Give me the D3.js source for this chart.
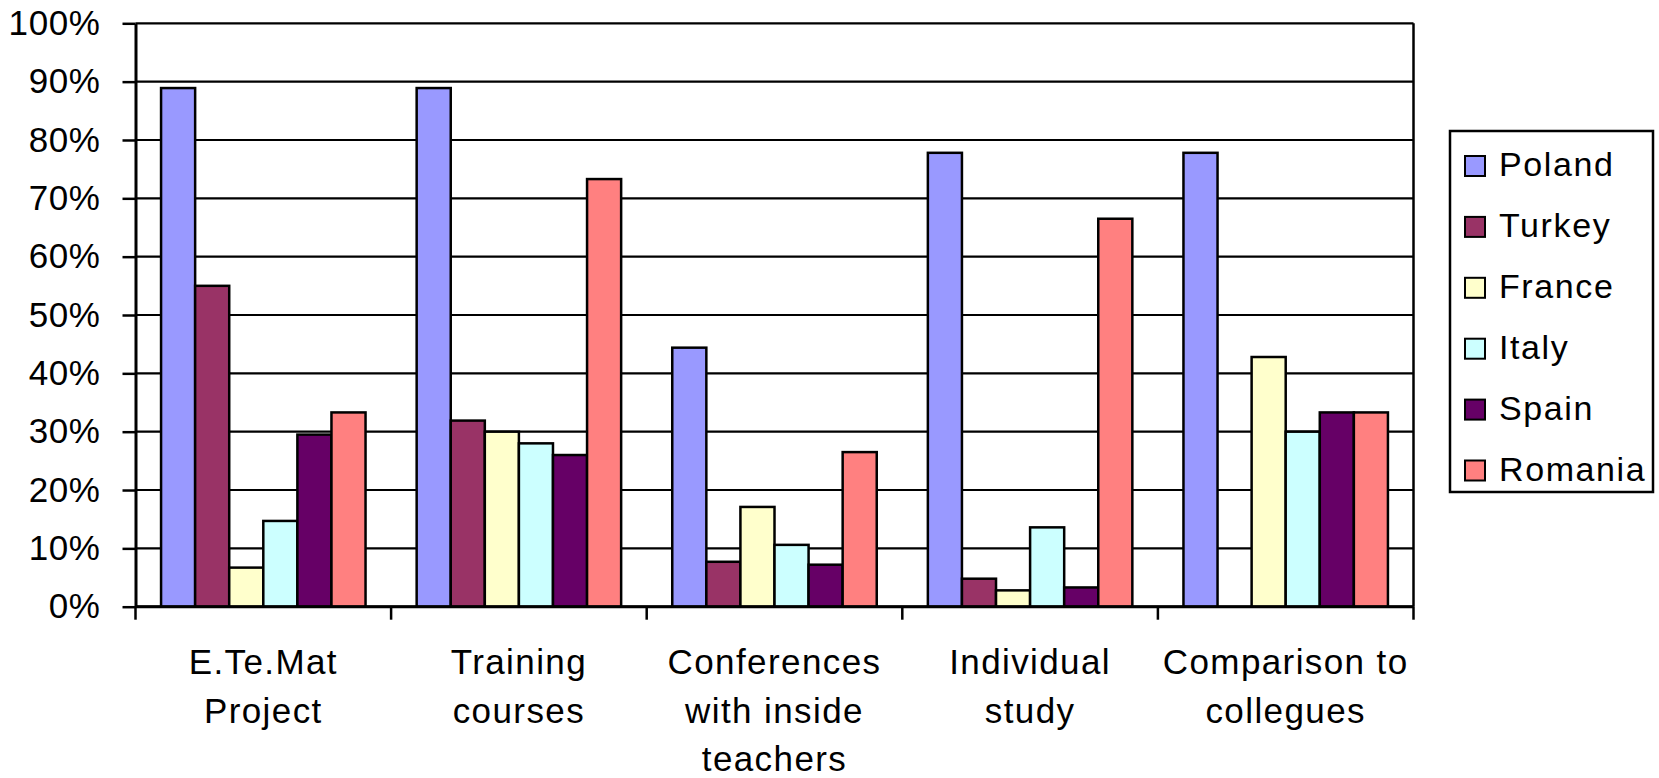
<!DOCTYPE html>
<html>
<head>
<meta charset="utf-8">
<script src="https://cdn.jsdelivr.net/npm/d3@7"></script>
<style>
  html, body { margin: 0; padding: 0; background: #fff; }
  svg { display: block; font-family: "Liberation Sans", Arial, sans-serif; }
</style>
</head>
<body>
<svg id="chart" width="1659" height="778"></svg>
<script>
// Categories (multi-line labels) and series
const categories = [
  ["E.Te.Mat", "Project"],
  ["Training", "courses"],
  ["Conferences", "with inside", "teachers"],
  ["Individual", "study"],
  ["Comparison to", "collegues"]
];
const seriesNames = ["Poland", "Turkey", "France", "Italy", "Spain", "Romania"];
const seriesColors = ["#9999FF", "#993366", "#FFFFCC", "#CCFFFF", "#660066", "#FF8080"];

// Share per series, one value per category (fractions of 1)
const poland  = [0.889, 0.889, 0.444, 0.778, 0.778];
const turkey  = [0.550, 0.319, 0.077, 0.048, 0.000];
const france  = [0.067, 0.300, 0.171, 0.028, 0.428];
const italy   = [0.147, 0.280, 0.106, 0.136, 0.300];
const spain   = [0.295, 0.260, 0.072, 0.033, 0.333];
const romania = [0.333, 0.733, 0.265, 0.665, 0.333];

const yTicks = [0, 0.1, 0.2, 0.3, 0.4, 0.5, 0.6, 0.7, 0.8, 0.9, 1.0];

const seriesValues = [poland, turkey, france, italy, spain, romania];

const svg = d3.select("#chart");

const plot = { left: 135.5, right: 1413.5, top: 23.3, bottom: 606.7 };

const catKeys = categories.map((c, i) => i);
const x0 = d3.scaleBand().domain(catKeys).range([plot.left, plot.right]).paddingInner(0).paddingOuter(0);
const x1 = d3.scaleBand().domain(seriesNames).range([0, x0.bandwidth()]).paddingInner(0).paddingOuter(0.75);
const y = d3.scaleLinear().domain([0, 1]).range([plot.bottom, plot.top]);

// Horizontal gridlines
svg.append("g")
  .selectAll("line")
  .data(yTicks)
  .join("line")
  .attr("x1", plot.left).attr("x2", plot.right)
  .attr("y1", d => y(d)).attr("y2", d => y(d))
  .attr("stroke", "#000").attr("stroke-width", 2.2);

// Right border of plot area
svg.append("line")
  .attr("x1", plot.right).attr("x2", plot.right)
  .attr("y1", plot.top).attr("y2", plot.bottom)
  .attr("stroke", "#000").attr("stroke-width", 2.5);

// Bars
const groups = svg.append("g")
  .selectAll("g")
  .data(catKeys)
  .join("g")
  .attr("transform", d => `translate(${x0(d)},0)`);

groups.selectAll("rect")
  .data(ci => seriesNames.map((s, si) => ({ s, si, v: seriesValues[si][ci] })).filter(d => d.v > 0))
  .join("rect")
  .attr("x", d => x1(d.s))
  .attr("width", x1.bandwidth())
  .attr("y", d => y(d.v))
  .attr("height", d => y(0) - y(d.v))
  .attr("fill", d => seriesColors[d.si])
  .attr("stroke", "#000")
  .attr("stroke-width", 2.5);

// Y axis
const yAxis = d3.axisLeft(y)
  .tickValues(yTicks)
  .tickFormat(d3.format(".0%"))
  .tickSize(13)
  .tickSizeOuter(0)
  .tickPadding(22);
const gy = svg.append("g")
  .attr("transform", `translate(${plot.left},0)`)
  .call(yAxis);
gy.select(".domain").attr("stroke", "#000").attr("stroke-width", 3);
gy.selectAll(".tick line").attr("stroke", "#000").attr("stroke-width", 2.5);
gy.selectAll(".tick text")
  .attr("font-size", 35)
  .attr("letter-spacing", 0.6)
  .attr("font-family", "'Liberation Sans', Arial, sans-serif")
  .attr("fill", "#000");

// X axis line and category dividers
const xEdges = catKeys.map(k => x0(k)).concat([plot.right]);
svg.append("line")
  .attr("x1", plot.left).attr("x2", plot.right)
  .attr("y1", plot.bottom).attr("y2", plot.bottom)
  .attr("stroke", "#000").attr("stroke-width", 3);
svg.append("g")
  .selectAll("line")
  .data(xEdges)
  .join("line")
  .attr("x1", d => d).attr("x2", d => d)
  .attr("y1", plot.bottom).attr("y2", plot.bottom + 13)
  .attr("stroke", "#000").attr("stroke-width", 2.5);

// Category labels
const labels = svg.append("g")
  .selectAll("text")
  .data(catKeys)
  .join("text")
  .attr("text-anchor", "middle")
  .attr("font-size", 35)
  .attr("letter-spacing", 1.4)
  .attr("fill", "#000")
  .attr("x", d => x0(d) + x0.bandwidth() / 2)
  .attr("y", 674);
labels.selectAll("tspan")
  .data(d => categories[d].map((t, i) => ({ t, i, cx: x0(d) + x0.bandwidth() / 2 })))
  .join("tspan")
  .attr("x", d => d.cx)
  .attr("y", d => 674 + d.i * 48.5)
  .text(d => d.t);

// Legend
const legend = { x: 1450, y: 131, w: 203, h: 361, rowStart: 166, rowStep: 60.9 };
svg.append("rect")
  .attr("x", legend.x).attr("y", legend.y)
  .attr("width", legend.w).attr("height", legend.h)
  .attr("fill", "#fff").attr("stroke", "#000").attr("stroke-width", 2.5);
const items = svg.append("g")
  .selectAll("g")
  .data(seriesNames)
  .join("g")
  .attr("transform", (d, i) => `translate(${legend.x + 15},${legend.rowStart + i * legend.rowStep})`);
items.append("rect")
  .attr("x", 0).attr("y", -10)
  .attr("width", 20).attr("height", 20)
  .attr("fill", (d, i) => seriesColors[i])
  .attr("stroke", "#000").attr("stroke-width", 2);
items.append("text")
  .attr("x", 34).attr("y", 10)
  .attr("font-size", 34)
  .attr("letter-spacing", 1.6)
  .attr("fill", "#000")
  .text(d => d);
</script>
</body>
</html>
